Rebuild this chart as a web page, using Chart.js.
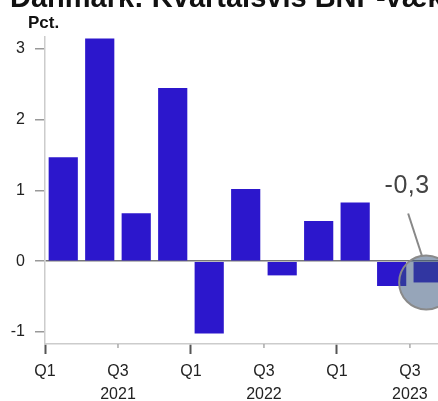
<!DOCTYPE html>
<html>
<head>
<meta charset="utf-8">
<script src="https://cdn.jsdelivr.net/npm/chart.js@4/dist/chart.umd.min.js"></script>
<style>
  html, body { margin: 0; padding: 0; background: #fff; }
  canvas { display: block; }
</style>
</head>
<body>
<canvas id="bnpChart" width="438" height="401"></canvas>
<script>
// Kvartalsvis BNP-vækst, pct. i forhold til kvartalet før
const periods = ['2021 Q1', '2021 Q2', '2021 Q3', '2021 Q4',
                 '2022 Q1', '2022 Q2', '2022 Q3', '2022 Q4',
                 '2023 Q1', '2023 Q2', '2023 Q3'];
const growth = [1.47, 3.15, 0.68, 2.45, -1.02, 1.02, -0.20, 0.57, 0.83, -0.35, -0.3];
const yTicks = [-1, 0, 1, 2, 3];
const title = 'Danmark: Kvartalsvis BNP-vækst';
const unit = 'Pct.';
const highlightIndex = 10;

const FONT = '"Liberation Sans", Arial, sans-serif';
const BAR = 'rgb(44, 23, 204)';

// each quarter spans one unit on the x axis, bar in the middle
const points = growth.map((v, i) => ({ x: i + 0.5, y: v }));

function tickLabel(value) {
  const p = periods[value];
  if (!p) return '';
  const [year, q] = p.split(' ');
  if (q === 'Q1') return 'Q1';
  if (q === 'Q3') return ['Q3', year];
  return '';
}

const headings = {
  id: 'headings',
  afterDraw(chart) {
    const c = chart.ctx;
    c.save();
    c.fillStyle = '#111';
    c.textAlign = 'left';
    c.textBaseline = 'alphabetic';
    c.font = 'bold 29px ' + FONT;
    c.fillText(title, 10, 7);
    c.font = 'bold 17px ' + FONT;
    c.fillText(unit, 28, 28);
    c.restore();
  }
};

// short ticks at Q3, the Q1 ticks come from the scale itself
const minorTicks = {
  id: 'minorTicks',
  afterDraw(chart) {
    const xs = chart.scales.x;
    const c = chart.ctx;
    c.save();
    c.strokeStyle = '#aaa';
    c.lineWidth = 1.5;
    xs.ticks.forEach(t => {
      if (t.value % 4 !== 2) return;
      const px = xs.getPixelForValue(t.value);
      c.beginPath();
      c.moveTo(px, xs.top);
      c.lineTo(px, xs.top + 4);
      c.stroke();
    });
    c.restore();
  }
};

// lens + callout over the latest quarter
const lens = {
  id: 'lens',
  afterDatasetsDraw(chart) {
    const bar = chart.getDatasetMeta(0).data[highlightIndex];
    if (!bar) return;
    const c = chart.ctx;
    const cx = bar.x - 2, cy = bar.y;
    c.save();
    c.beginPath();
    c.arc(cx, cy, 27, 0, Math.PI * 2);
    c.fillStyle = 'rgba(53, 82, 120, 0.52)';
    c.fill();
    c.strokeStyle = '#8a8a8a';
    c.lineWidth = 2;
    c.stroke();

    c.beginPath();
    c.moveTo(cx - 4, cy - 26);
    c.lineTo(cx - 18, cy - 69);
    c.strokeStyle = '#888';
    c.lineWidth = 2;
    c.stroke();

    c.fillStyle = '#444';
    c.font = '25px ' + FONT;
    c.letterSpacing = '0.5px';
    c.textAlign = 'center';
    c.textBaseline = 'alphabetic';
    const label = growth[highlightIndex].toFixed(1).replace('.', ',');
    c.fillText(label, cx - 19, cy - 89);
    c.restore();
  }
};

const ctx = document.getElementById('bnpChart').getContext('2d');

const bnpChart = new Chart(ctx, {
  type: 'bar',
  data: {
    datasets: [{
      label: 'BNP-vækst',
      data: points,
      backgroundColor: BAR,
      borderWidth: 0,
      barPercentage: 0.8,
      categoryPercentage: 1
    }]
  },
  options: {
    responsive: false,
    animation: false,
    layout: { padding: { top: 37, left: 0, right: 0, bottom: 0 } },
    plugins: {
      legend: { display: false },
      tooltip: { enabled: false }
    },
    scales: {
      x: {
        type: 'linear',
        min: 0,
        max: 10.77,
        offset: false,
        afterFit(scale) { scale.height = 57; },
        border: { color: '#ccc', width: 1.5 },
        grid: {
          offset: false,
          drawOnChartArea: false,
          tickLength: 10,
          tickWidth: 2,
          tickColor: c => (c.tick && c.tick.value % 4 === 0) ? '#555' : 'transparent'
        },
        ticks: {
          stepSize: 2,
          includeBounds: false,
          autoSkip: false,
          maxRotation: 0,
          padding: 6,
          color: '#222',
          font: { family: FONT, size: 16, lineHeight: 1.45 },
          callback: value => tickLabel(value)
        }
      },
      y: {
        min: -1.17,
        max: 3.17,
        afterFit(scale) { scale.width = 45; },
        afterBuildTicks(scale) {
          scale.ticks = yTicks.map(v => ({ value: v }));
        },
        border: { color: '#ccc', width: 1.5 },
        grid: {
          drawOnChartArea: true,
          tickLength: 10,
          tickWidth: 1.5,
          tickColor: '#999',
          lineWidth: 1.5,
          color: c => (c.tick && c.tick.value === 0) ? '#777' : 'transparent'
        },
        ticks: {
          padding: 10,
          color: '#222',
          font: { family: FONT, size: 16 },
          callback: value => value
        }
      }
    }
  },
  plugins: [headings, minorTicks, lens]
});
</script>
</body>
</html>
